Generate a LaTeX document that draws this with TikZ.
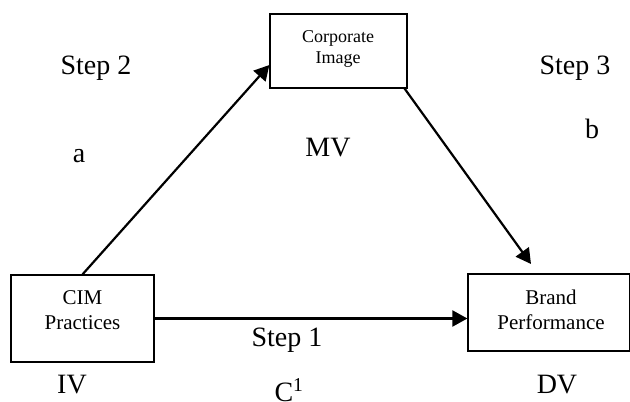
\documentclass[tikz,border=0pt]{standalone}
\usepackage{fontspec}
\setmainfont{Liberation Serif}
\usetikzlibrary{arrows.meta}
\begin{document}
\begin{tikzpicture}[x=1pt,y=-1pt,
  box/.style={draw, line width=1.2pt, inner sep=0pt},
  lbl/.style={font=\fontsize{28}{32}\selectfont, inner sep=0pt, anchor=base},
  boxtxt/.style={font=\fontsize{21}{24.5}\selectfont, align=center, inner sep=0pt},
  smalltxt/.style={font=\fontsize{18}{21}\selectfont, align=center, inner sep=0pt},
  conn/.style={line width=2.2pt, -{Triangle[length=15pt,width=16pt]}}]
\useasboundingbox (0,0) rectangle (630,402);
% boxes
\node[box, minimum width=137pt, minimum height=74pt] (ci) at (338.5,51) {};
\node[box, minimum width=143pt, minimum height=87pt] (cim) at (82.5,318.5) {};
\node[box, minimum width=161.5pt, minimum height=77pt] (bp) at (548.75,312.5) {};
% box texts
\node[smalltxt] (citxt) at (338,48.5) {Corporate\\Image};
\node[boxtxt] (cimtxt) at (82.5,310) {CIM\\Practices};
\node[boxtxt] (bptxt) at (551,310) {Brand\\Performance};
% connectors
\coordinate (bpin) at (531,264);
\draw[conn] (cim.north) -- ([yshift=-14pt]ci.west);
\draw[conn] ([xshift=-3pt]ci.south east) -- (bpin);
\draw[conn] (cim.east) -- (cim.east -| bp.west);
% labels
\node[lbl] (s2) at (96,74) {Step 2};
\node[lbl] (s3) at (575,74) {Step 3};
\node[lbl] (la) at (79,162) {a};
\node[lbl] (mv) at (328,156) {MV};
\node[lbl] (lb) at (592,138) {b};
\node[lbl] (s1) at (287,346) {Step 1};
\node[lbl] (iv) at (72,393) {IV};
\node[lbl] (c1) at (289,401) {C\textsuperscript{1}};
\node[lbl] (dv) at (557,393) {DV};
\end{tikzpicture}
\end{document}
